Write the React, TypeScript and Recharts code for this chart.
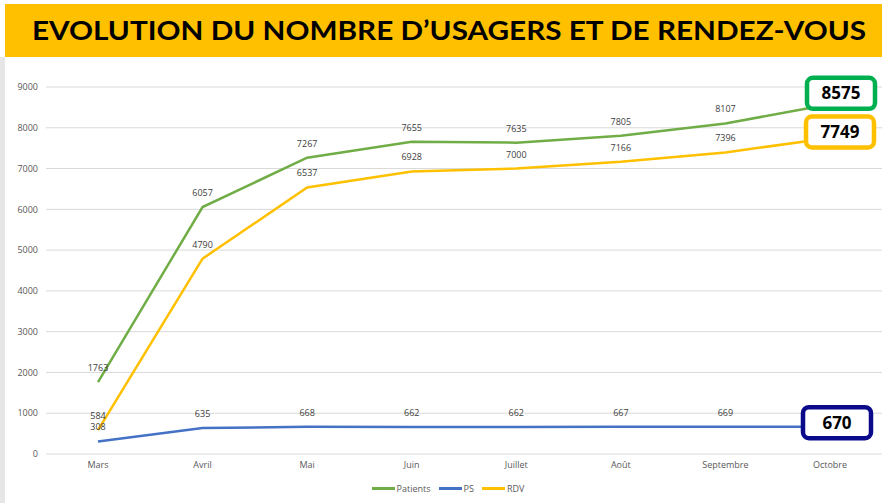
import React from 'react';
import { LineChart, Line, XAxis, YAxis, CartesianGrid, Legend, LabelList } from 'recharts';

const months = ['Mars', 'Avril', 'Mai', 'Juin', 'Juillet', 'Août', 'Septembre', 'Octobre'];
const patients = [1763, 6057, 7267, 7655, 7635, 7805, 8107, 8575];
const ps = [308, 635, 668, 662, 662, 667, 669, 670];
const rdv = [584, 4790, 6537, 6928, 7000, 7166, 7396, 7749];
const yTicks = [0, 1000, 2000, 3000, 4000, 5000, 6000, 7000, 8000, 9000];

const data = months.map((m, i) => ({ month: m, Patients: patients[i], PS: ps[i], RDV: rdv[i] }));

const SERIES = [
  { key: 'Patients', color: '#70AD47', box: '#00B050', dx: 11, dy: -11 },
  { key: 'PS', color: '#4472C4', box: '#0A0A8A', dx: 7, dy: -4 },
  { key: 'RDV', color: '#FFC000', box: '#FFC000', dx: 10, dy: -6 },
];

const FONT = '"Open Sans", sans-serif';

/** label au-dessus du point, encadré pour le dernier mois */
function makeLabel(boxColor: string, dx: number, dy: number) {
  return function PointLabel(props: any) {
    const { x, y, value, index } = props;
    if (index === months.length - 1) {
      const w = 68;
      const h = 31;
      const cx = x + dx;
      const cy = y + dy;
      return (
        <g>
          <rect x={cx - w / 2} y={cy - h / 2} width={w} height={h} rx={6} ry={6}
            fill="#fff" stroke={boxColor} strokeWidth={4.5} />
          <text x={cx} y={cy + 6} textAnchor="middle" fontFamily={FONT} fontWeight={700}
            fontSize={17} fill="#000">{value}</text>
        </g>
      );
    }
    return (
      <text x={x} y={y - 11} textAnchor="middle" fontFamily={FONT} fontSize={9} fill="#404040">
        {value}
      </text>
    );
  };
}

function LegendContent() {
  return (
    <div style={{ height: 20, display: 'flex', justifyContent: 'center', alignItems: 'center',
      paddingLeft: 22, fontFamily: FONT, fontSize: 9, color: '#595959' }}>
      {SERIES.map((s) => (
        <div key={s.key} style={{ display: 'flex', alignItems: 'center', marginRight: 8 }}>
          <span style={{ display: 'inline-block', width: 23, height: 3, background: s.color, marginRight: 2 }} />
          <span>{s.key}</span>
        </div>
      ))}
    </div>
  );
}

export default function App() {
  return (
    <div style={{ position: 'absolute', left: 0, top: 0, width: 882, height: 503, background: '#fff', overflow: 'hidden' }}>
      <div style={{ position: 'absolute', left: 0, top: 57, width: 5, height: 446, background: '#e6e6e6' }} />
      <svg style={{ position: 'absolute', left: 5, top: 4 }} width={877} height={53}>
        <rect x={0} y={0} width={877} height={53} fill="#FFC000" />
        <text x={27} y={36} textLength={834} lengthAdjust="spacingAndGlyphs" fontFamily="Lato, sans-serif"
          fontWeight={700} fontSize={26.5} fill="#000">
          EVOLUTION DU NOMBRE D’USAGERS ET DE RENDEZ-VOUS
        </text>
      </svg>
      <div style={{ position: 'absolute', left: 0, top: 57 }}>
        <LineChart width={882} height={446} data={data} margin={{ top: 30, right: 0, left: 0, bottom: 5 }}>
          <CartesianGrid vertical={false} stroke="#d9d9d9" />
          <XAxis dataKey="month" axisLine={false} tickLine={false} height={24}
            padding={{ left: 52, right: 52 }}
            tick={{ fontFamily: FONT, fontSize: 9, fill: '#595959' }} />
          <YAxis domain={[0, 9000]} ticks={yTicks} width={46} axisLine={false} tickLine={false}
            tick={{ fontFamily: FONT, fontSize: 9, fill: '#595959' }} />
          {SERIES.map((s) => (
            <Line key={s.key} dataKey={s.key} stroke={s.color} strokeWidth={2.5} dot={false}
              type="linear" isAnimationActive={false}>
              <LabelList dataKey={s.key} content={makeLabel(s.box, s.dx, s.dy)} />
            </Line>
          ))}
          <Legend verticalAlign="bottom" content={<LegendContent />} />
        </LineChart>
      </div>
    </div>
  );
}
